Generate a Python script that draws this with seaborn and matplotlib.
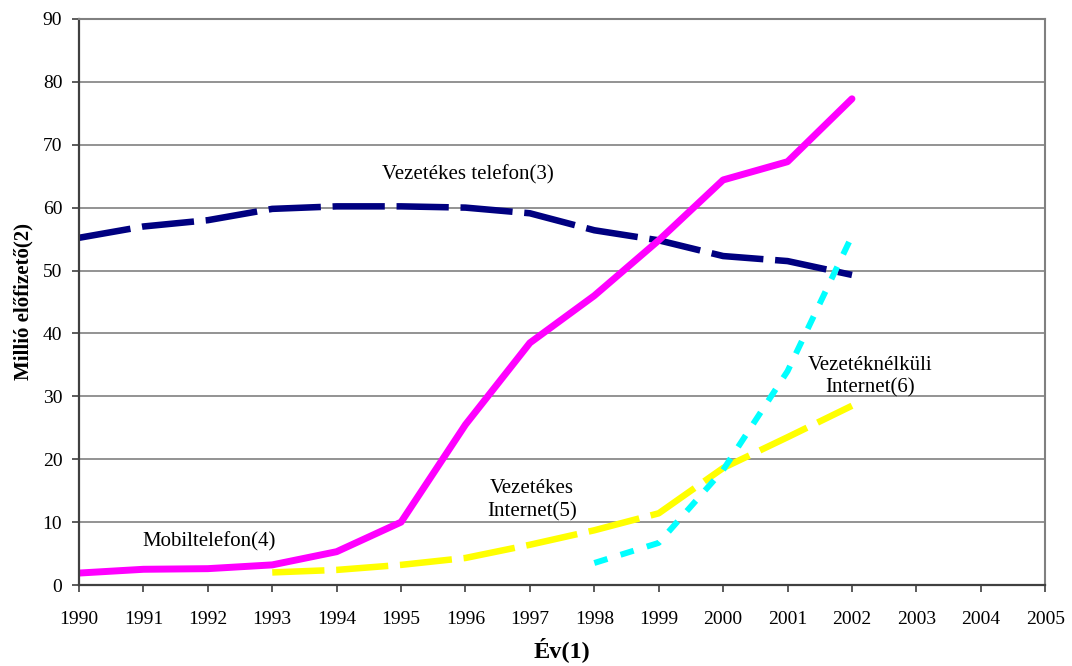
import matplotlib
matplotlib.use("Agg")
import matplotlib.pyplot as plt
import seaborn as sns

# Adatok (millió előfizető)
evek = [1990, 1991, 1992, 1993, 1994, 1995, 1996, 1997, 1998, 1999, 2000, 2001, 2002]
vezetekes_telefon = [55.2, 57.0, 58.0, 59.8, 60.2, 60.2, 60.0, 59.1, 56.4, 54.8, 52.3, 51.5, 49.3]
mobiltelefon = [1.9, 2.5, 2.6, 3.2, 5.3, 10.0, 25.5, 38.5, 46.0, 54.8, 64.4, 67.3, 77.3]

evek_internet = [1993, 1994, 1995, 1996, 1997, 1998, 1999, 2000, 2001, 2002]
vezetekes_internet = [2.0, 2.4, 3.2, 4.3, 6.4, 8.7, 11.4, 18.6, 23.5, 28.5]

evek_vnk = [1998, 1999, 2000, 2001, 2002]
vezeteknelkuli_internet = [3.5, 6.7, 18.3, 34.0, 55.5]

x_tickek = list(range(1990, 2006))
y_tickek = list(range(0, 91, 10))

sns.set_theme(style="ticks")
plt.rcParams["font.family"] = ["Liberation Serif", "DejaVu Serif"]
plt.rcParams["text.color"] = "black"
plt.rcParams["axes.labelcolor"] = "black"

fig = plt.figure(figsize=(10.72, 6.66), dpi=100)
ax = fig.add_axes([0.0737, 0.1216, 0.9013, 0.85])

ax.yaxis.grid(True, color="#808080", linewidth=1.2)
ax.set_axisbelow(True)

sns.lineplot(x=evek, y=vezetekes_telefon, ax=ax, color="#000080", linewidth=4.7,
             linestyle=(0, (8, 1.8)))
sns.lineplot(x=evek, y=mobiltelefon, ax=ax, color="#FF00FF", linewidth=5,
             solid_capstyle="round", solid_joinstyle="round")
sns.lineplot(x=evek_internet, y=vezetekes_internet, ax=ax, color="#FFFF00", linewidth=4.7,
             linestyle=(0, (8, 1.8)))
sns.lineplot(x=evek_vnk, y=vezeteknelkuli_internet, ax=ax, color="#00FFFF", linewidth=4.3,
             linestyle=(0, (2.3, 2.3)))

ax.set_xlim(1990, 2005)
ax.set_ylim(0, 90)
ax.set_xticks(x_tickek)
ax.set_yticks(y_tickek)
ax.tick_params(axis="x", direction="out", length=5, width=1.2, pad=13.5, labelsize=14,
               colors="#404040", labelcolor="black")
ax.tick_params(axis="y", direction="out", length=5, width=1.2, pad=7, labelsize=14,
               colors="#404040", labelcolor="black")

for s in ["top", "right"]:
    ax.spines[s].set_color("#808080")
    ax.spines[s].set_linewidth(1.5)
for s in ["left", "bottom"]:
    ax.spines[s].set_color("#404040")
    ax.spines[s].set_linewidth(1.6)

ax.set_xlabel("Év(1)", fontsize=17.5, fontweight="bold", labelpad=7)
ax.set_ylabel("Millió előfizető(2)", fontsize=15, fontweight="bold", labelpad=7)

# Feliratok a vonalak mellett
ax.text(1996.04, 65.2, "Vezetékes telefon(3)", fontsize=15, ha="center", va="center")
ax.text(1992.02, 6.8, "Mobiltelefon(4)", fontsize=15, ha="center", va="center")
ax.text(1997.03, 13.5, "Vezetékes\nInternet(5)", fontsize=15, ha="center", va="center", linespacing=1.25)
ax.text(2002.28, 33.1, "Vezetéknélküli\nInternet(6)", fontsize=15, ha="center", va="center", linespacing=1.25)

fig.savefig("out.png", dpi=100)
